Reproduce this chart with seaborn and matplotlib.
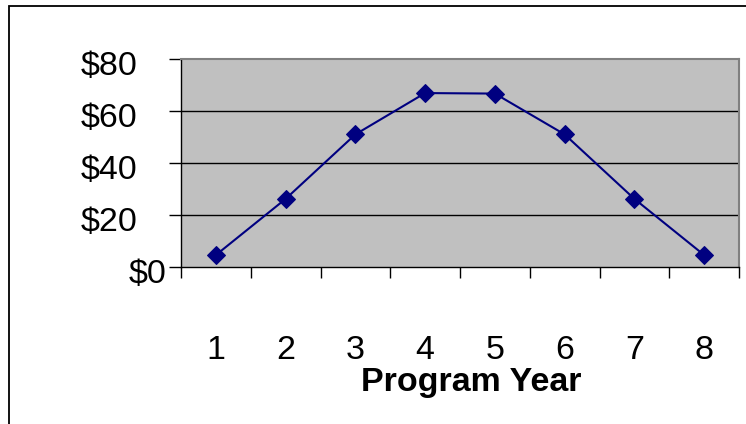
import matplotlib
matplotlib.use("Agg")
import matplotlib.pyplot as plt
import matplotlib.patches as patches
import matplotlib.transforms as mtransforms
import seaborn as sns

# program year -> value (dollars)
years = [1, 2, 3, 4, 5, 6, 7, 8]
values = [4.6, 26.2, 51.0, 66.9, 66.7, 51.0, 26.2, 4.6]
y_ticks = [0, 20, 40, 60, 80]
y_labels = ["$0", "$20", "$40", "$60", "$80"]

plt.rcParams['font.family'] = ['Liberation Sans', 'DejaVu Sans']

fig = plt.figure(figsize=(7.46, 4.24), dpi=100)
ax = fig.add_axes([181/746, 1 - 267/424, (739 - 181)/746, (267 - 59)/424])

# chart border (runs off right/bottom edges like the screenshot)
fig.patches.append(patches.Rectangle((9/746, -0.1), 1.2, 1.1 - 6/424, transform=fig.transFigure,
                                     fill=False, edgecolor='black', linewidth=1.3))

ax.set_facecolor('#C0C0C0')
sns.lineplot(x=years, y=values, ax=ax, color='#000080', marker='D', markersize=9,
             markeredgecolor='#000080', linewidth=1.5, zorder=3)

ax.set_xlim(0.5, 8.5)
ax.set_ylim(0, 80)

# horizontal gridlines
for v in y_ticks[1:-1]:
    ax.axhline(v, color='black', linewidth=1, zorder=1)

ax.set_yticks(y_ticks)
ax.set_yticklabels(y_labels, fontsize=24.5)
ax.tick_params(axis='y', length=9, width=1, pad=1.5, direction='out')
# excel puts the wider labels a bit further left, and all slightly low
for i, lab in enumerate(ax.get_yticklabels()):
    dx = 0 if i == 0 else -29/100
    lab.set_transform(lab.get_transform() + mtransforms.ScaledTranslation(dx, -4/100, fig.dpi_scale_trans))

ax.set_xticks(years)
ax.set_xticklabels([str(y) for y in years], fontsize=24.5)
ax.tick_params(axis='x', which='major', length=0, pad=49)
ax.set_xticks([y - 0.5 for y in years] + [8.5], minor=True)
ax.tick_params(axis='x', which='minor', length=8, width=1, direction='out')

ax.set_xlabel("Program Year", fontsize=24.5, fontweight='bold')
ax.xaxis.set_label_coords(0.52, -0.48)
ax.set_ylabel("")

for side in ['left', 'bottom']:
    ax.spines[side].set_color('black')
    ax.spines[side].set_linewidth(1)
for side in ['top', 'right']:
    ax.spines[side].set_color('#808080')
    ax.spines[side].set_linewidth(1.5)

fig.savefig("out.png", dpi=100)
